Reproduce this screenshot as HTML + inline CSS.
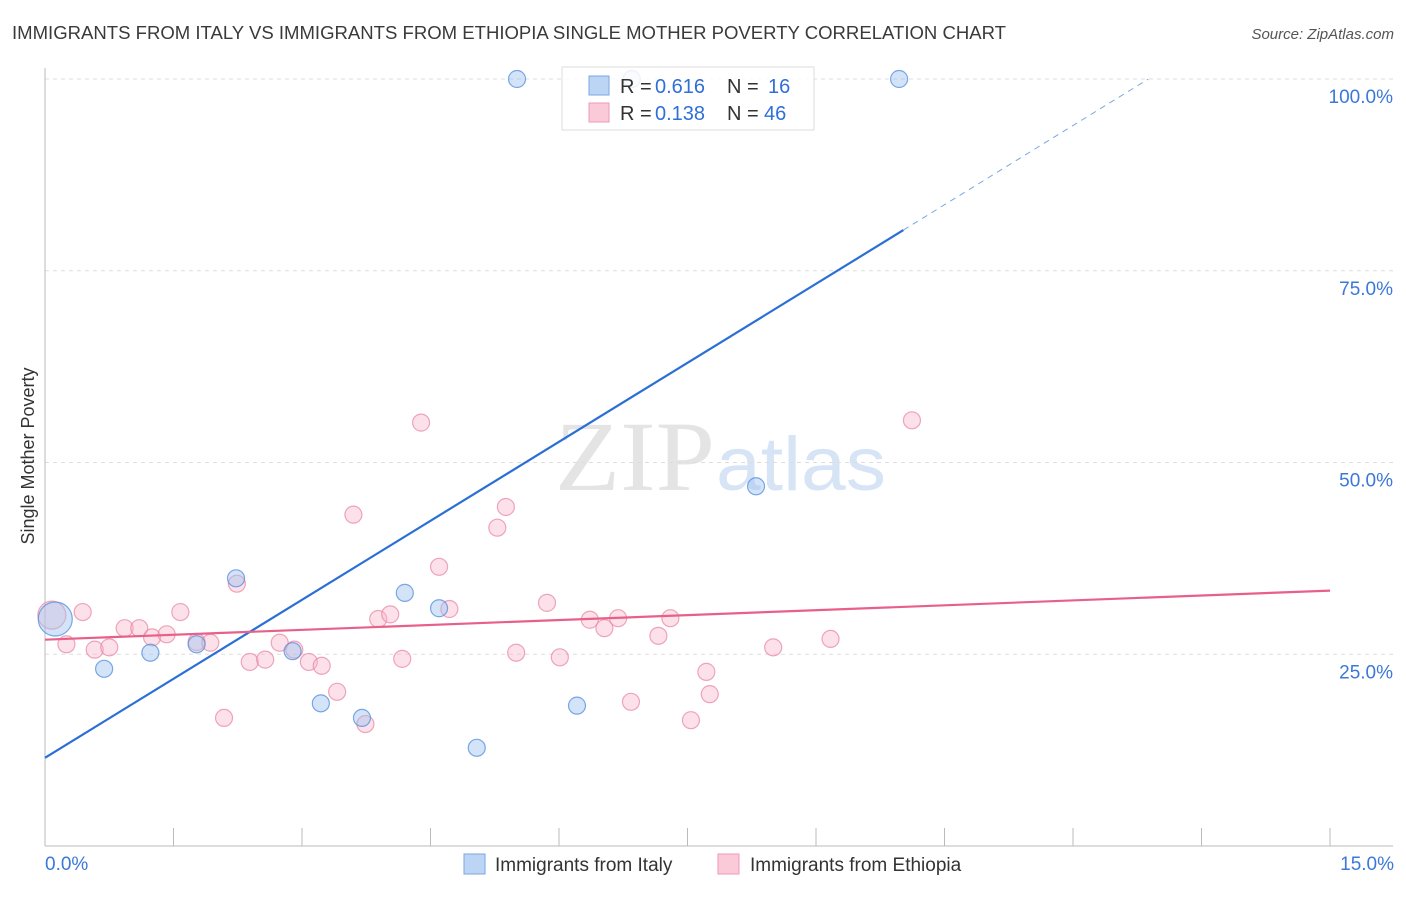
<!DOCTYPE html>
<html><head><meta charset="utf-8"><style>
body{margin:0;background:#fff;font-family:"Liberation Sans",sans-serif}
</style></head><body>
<svg width="1406" height="892" viewBox="0 0 1406 892" xmlns="http://www.w3.org/2000/svg" style="font-family:'Liberation Sans',sans-serif">
<text x="12" y="39" font-size="18" fill="#3a3a3a" textLength="994" lengthAdjust="spacingAndGlyphs">IMMIGRANTS FROM ITALY VS IMMIGRANTS FROM ETHIOPIA SINGLE MOTHER POVERTY CORRELATION CHART</text>
<text x="1394" y="39" font-size="15" fill="#555" font-style="italic" text-anchor="end">Source: ZipAtlas.com</text>
<text x="555" y="490" font-size="100" fill="#e4e4e4" textLength="160" lengthAdjust="spacingAndGlyphs" font-family="Liberation Serif,serif">ZIP</text>
<text x="716" y="490" font-size="76" fill="#d6e4f5" textLength="170" lengthAdjust="spacingAndGlyphs">atlas</text>
<g id="grid"></g>
<g id="axes"></g>
<g id="marks"></g>
<text transform="translate(34,456) rotate(-90)" font-size="18" fill="#333" text-anchor="middle">Single Mother Poverty</text>
<g>
<rect x="562" y="67" width="252" height="63" fill="rgba(255,255,255,0.85)" stroke="#ddd"/>
<rect x="589" y="76" width="20" height="19" fill="#bcd5f5" stroke="#7aa7e0"/>
<rect x="589" y="103" width="20" height="19" fill="#fbcad9" stroke="#ee9ab5"/>
<text x="620" y="93" font-size="20" fill="#333">R =</text>
<text x="655" y="93" font-size="20" fill="#2f6fd6">0.616</text>
<text x="727" y="93" font-size="20" fill="#333">N =</text>
<text x="768" y="93" font-size="20" fill="#2f6fd6">16</text>
<text x="620" y="120" font-size="20" fill="#333">R =</text>
<text x="655" y="120" font-size="20" fill="#2f6fd6">0.138</text>
<text x="727" y="120" font-size="20" fill="#333">N =</text>
<text x="764" y="120" font-size="20" fill="#2f6fd6">46</text>
</g>
<g>
<rect x="464" y="854" width="21" height="20" fill="#bcd5f5" stroke="#7aa7e0"/>
<text x="495" y="871" font-size="19" fill="#333">Immigrants from Italy</text>
<rect x="718" y="854" width="21" height="20" fill="#fbcad9" stroke="#ee9ab5"/>
<text x="750" y="871" font-size="19" fill="#333">Immigrants from Ethiopia</text>
</g>
</svg>
<script>
const xTicks=[0,1.5,3,4.5,6,7.5,9,10.5,12,13.5,15];
const yTicks=[25,50,75,100];
const italyX=[5.51,6.85,9.97,0.12,0.69,1.23,1.77,2.23,2.89,3.22,3.70,4.20,4.60,5.04,6.21,8.30];
const italyY=[100,100,100,29.6,23.1,25.2,26.3,34.9,25.4,18.6,16.7,33.0,31.0,12.8,18.3,46.9];
const ethX=[0.08,0.25,0.44,0.58,0.75,0.93,1.10,1.25,1.42,1.58,1.77,1.93,2.09,2.24,2.39,2.57,2.74,2.91,3.08,3.23,3.41,3.60,3.74,3.89,4.03,4.17,4.39,4.60,4.72,5.28,5.38,5.50,5.86,6.01,6.36,6.53,6.69,6.84,7.16,7.30,7.54,7.72,7.76,8.50,9.17,10.12];
const ethY=[30.1,26.3,30.5,25.6,25.9,28.4,28.4,27.2,27.6,30.5,26.6,26.5,16.7,34.2,24.0,24.3,26.5,25.6,24.0,23.5,20.1,43.2,15.9,29.6,30.2,24.4,55.2,36.4,30.9,41.5,44.2,25.2,31.7,24.6,29.5,28.4,29.7,18.8,27.4,29.7,16.4,22.7,19.8,25.9,27.0,55.5];
const italyTrend=[[0,11.5],[10.02,80.3],[12.88,100]];
const ethTrend=[[0,26.9],[15,33.3]];
const sx=v=>45+v/15*1285, sy=v=>846-v/100*767;
const NS='http://www.w3.org/2000/svg';
function mk(t,a,p){const e=document.createElementNS(NS,t);for(const k in a)e.setAttribute(k,a[k]);p.appendChild(e);return e;}
const grid=document.getElementById('grid'),axes=document.getElementById('axes'),marks=document.getElementById('marks');
yTicks.forEach(v=>{
 const l=mk('line',{x1:45,x2:1393,y1:sy(v),y2:sy(v),stroke:'#ddd','stroke-dasharray':'4,4'},grid);
 
 
 const t=mk('text',{x:1393,y:sy(v)+24,'font-size':19,fill:'#3b78d8','text-anchor':'end'},axes);
 t.textContent=v.toFixed(1)+'%';
 
 
});
mk('line',{x1:45,x2:45,y1:68,y2:846,stroke:'#bbb'},axes);
mk('line',{x1:45,x2:1393,y1:846,y2:846,stroke:'#bbb'},axes);
xTicks.forEach(v=>{
 const l=mk('line',{x1:sx(v),x2:sx(v),y1:828,y2:846,stroke:'#bbb'},axes);
 
 
});
[[0,'start',45],[15,'end',1394]].forEach(([v,a,x])=>{
 const t=mk('text',{x:x,y:870,'font-size':19,fill:'#3b78d8','text-anchor':a},axes);
 t.textContent=v.toFixed(1)+'%';
 
 
});
ethX.forEach((x,i)=>{
 const c=mk('circle',{cx:sx(x),cy:sy(ethY[i]),r:i==0?14:8.5,fill:'rgba(248,180,202,0.4)',stroke:'rgba(232,130,160,0.7)','stroke-width':1.2},marks);
 
 
});
italyX.forEach((x,i)=>{
 const c=mk('circle',{cx:sx(x),cy:sy(italyY[i]),r:i==3?17:8.5,fill:'rgba(160,195,240,0.45)',stroke:'rgba(80,140,220,0.75)','stroke-width':1.2},marks);
 
 
});
let l1=mk('line',{x1:sx(italyTrend[0][0]),y1:sy(italyTrend[0][1]),x2:sx(italyTrend[1][0]),y2:sy(italyTrend[1][1]),stroke:'#2b6fd6','stroke-width':2.2},marks);


let l2=mk('line',{x1:sx(italyTrend[1][0]),y1:sy(italyTrend[1][1]),x2:sx(italyTrend[2][0]),y2:sy(italyTrend[2][1]),stroke:'#7aa7e0','stroke-width':1,'stroke-dasharray':'6,5'},marks);


let l3=mk('line',{x1:sx(ethTrend[0][0]),y1:sy(ethTrend[0][1]),x2:sx(ethTrend[1][0]),y2:sy(ethTrend[1][1]),stroke:'#e8608a','stroke-width':2.2},marks);


</script>
</body></html>
